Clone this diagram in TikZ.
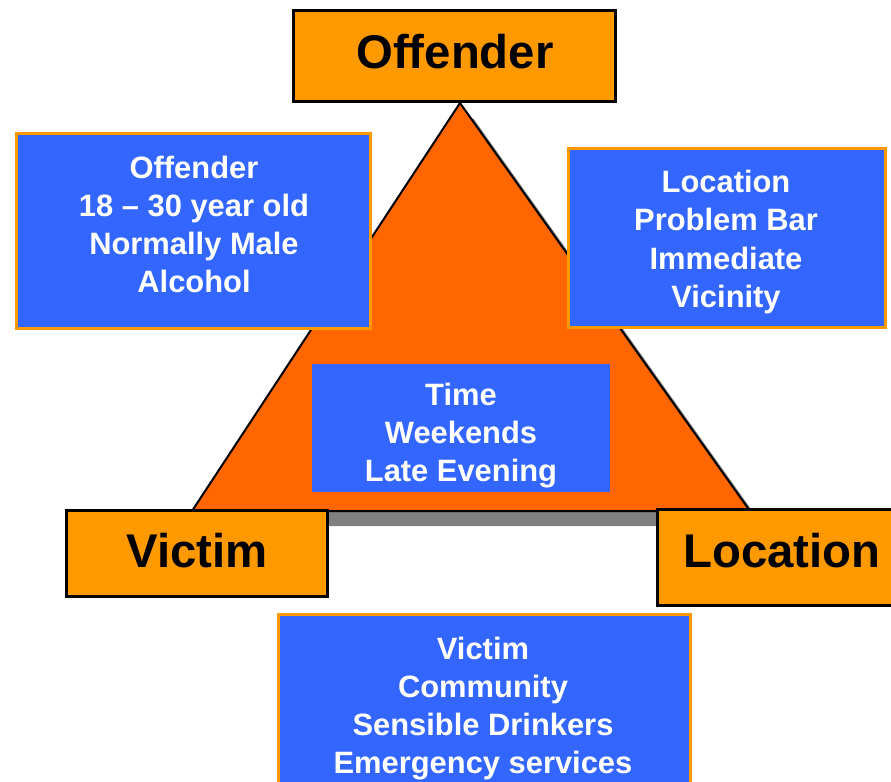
\documentclass[tikz,border=0pt]{standalone}
\usepackage{fontspec}
\setmainfont{Liberation Sans}
\definecolor{tborange}{HTML}{FF9900}
\definecolor{tri}{HTML}{FF6600}
\definecolor{bluebox}{HTML}{3366FF}
\definecolor{shadowgrey}{HTML}{808080}
\tikzset{
  titlebox/.style={draw=black, line width=3bp, fill=tborange, inner sep=0pt},
  infobox/.style={draw=tborange, line width=3bp, fill=bluebox, inner sep=0pt},
  plainbox/.style={fill=bluebox, inner sep=0pt},
  titletext/.style={font=\bfseries\fontsize{47.5}{54}\selectfont, text=black, inner sep=0pt},
  infotext/.style={font=\bfseries\fontsize{31}{38.3}\selectfont, text=white, align=center, inner sep=0pt}
}
\begin{document}
\begin{tikzpicture}[x=1bp, y=-1bp]
\useasboundingbox (0,0) rectangle (891,782);
\clip (0,0) rectangle (891,782);
% triangle with shadow
\coordinate (apex) at (460,103);
\coordinate (bl) at (192,511);
\coordinate (br) at (750,511);
\fill[shadowgrey] ([shift={(13,15)}]apex) -- ([shift={(13,15)}]br) -- ([shift={(13,15)}]bl) -- cycle;
\filldraw[fill=tri, draw=black, line width=2bp, line join=miter] (apex) -- (br) -- (bl) -- cycle;
% title boxes
\node[titlebox, minimum width=322bp, minimum height=90bp] (offbox) at (454,56) {};
\node[titletext] (offtext) at (455,52) {Offender};
\node[titlebox, minimum width=260bp, minimum height=86bp] (vicbox) at (197,553) {};
\node[titletext] (victext) at (197,551) {Victim};
\node[titlebox, minimum width=244bp, minimum height=96bp] (locbox) at (779,557) {};
\node[titletext] (loctext) at (782,551) {Location};
% info boxes
\node[infobox, minimum width=353bp, minimum height=194bp] (offinfo) at (193.5,231) {};
\node[infotext] (offinfotext) at (194,224.5) {Offender\\18 – 30 year old\\Normally Male\\Alcohol};
\node[infobox, minimum width=317bp, minimum height=178bp] (locinfo) at (726.5,238) {};
\node[infotext] (locinfotext) at (726,242) {Location\\Problem Bar\\Immediate\\Vicinity};
\node[plainbox, minimum width=298bp, minimum height=128bp] (timebox) at (461,428) {};
\node[infotext] (timetext) at (461,435.5) {Time\\Weekends\\Late Evening};
\node[infobox, minimum width=412bp, minimum height=200bp] (vicinfo) at (484,714) {};
\node[infotext] (vicinfotext) at (483,708.5) {Victim\\Community\\Sensible Drinkers\\Emergency services};
\end{tikzpicture}
\end{document}
